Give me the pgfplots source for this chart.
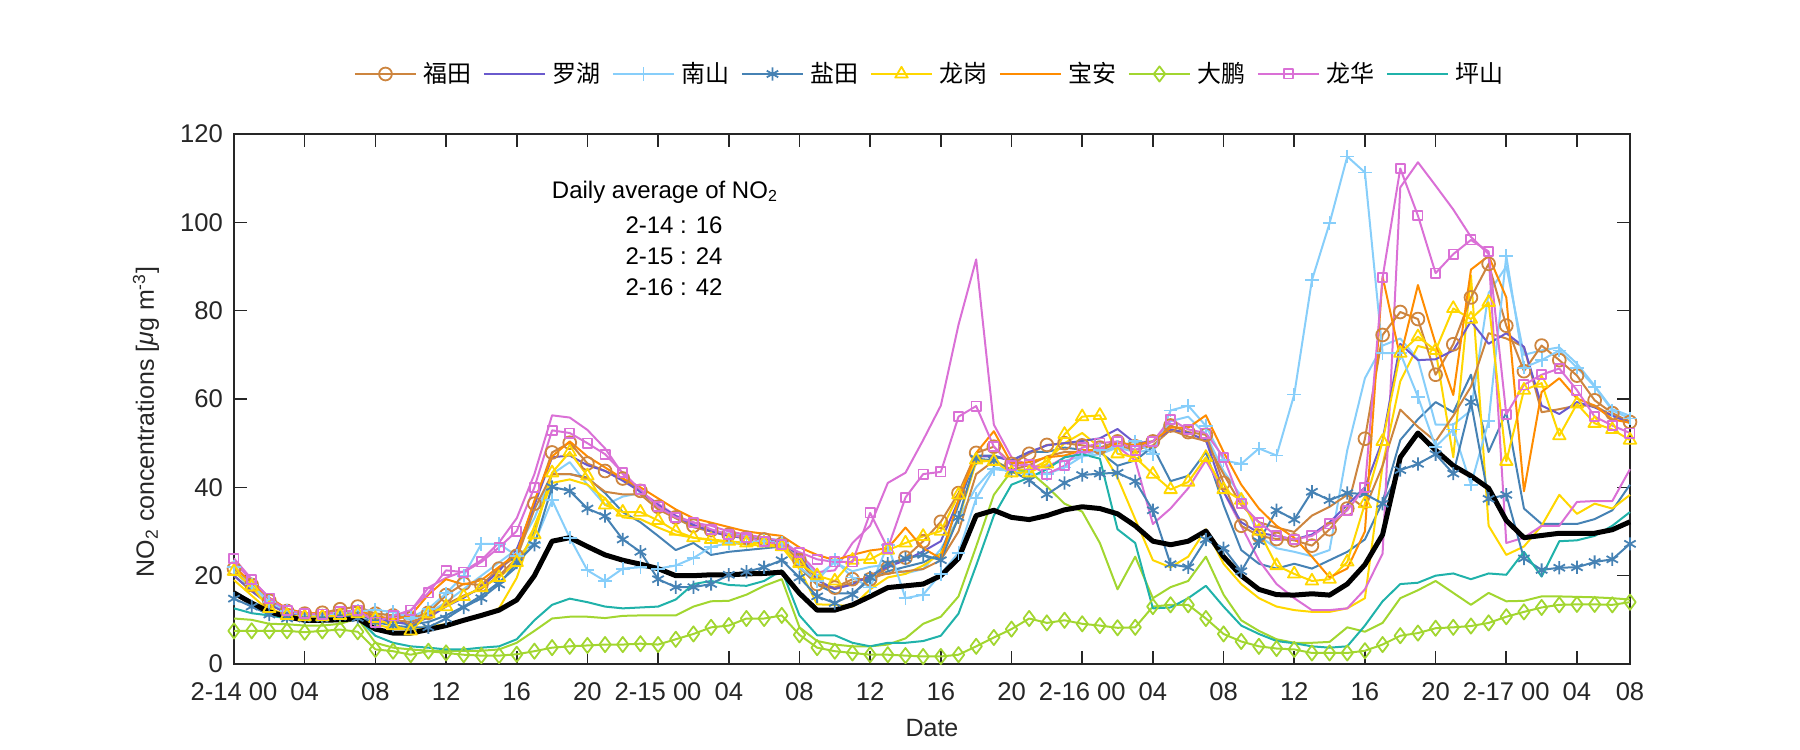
\documentclass[border=0pt]{standalone}
\usepackage{fontspec}
\setmainfont{Liberation Sans}
\newfontfamily\cjk{Noto Sans CJK SC}
\usepackage{pgfplots}
\pgfplotsset{compat=1.18}
\definecolor{cFT}{HTML}{CD853F}
\definecolor{cLU}{HTML}{6A5ACD}
\definecolor{cNS}{HTML}{87CEFA}
\definecolor{cYT}{HTML}{4682B4}
\definecolor{cLG}{HTML}{FFD700}
\definecolor{cBA}{HTML}{FF8C00}
\definecolor{cDP}{HTML}{A2D630}
\definecolor{cLH}{HTML}{DA70D6}
\definecolor{cPS}{HTML}{20B2AA}
\definecolor{axgray}{HTML}{262626}
\newcommand\ff{\fontsize{12}{14.4}\selectfont}
\newcommand\fft{\fontsize{12.8}{15}\selectfont}
\newcommand\ffl{\fontsize{12.5}{15}\selectfont}
\pgfplotsset{
  s/.style={line width=1pt, line join=round, mark options={solid, line width=0.9pt}},
  u/.style={line width=1pt, line join=round, no markers, forget plot},
  /pgfplots/table/tb/.style={x expr=\coordindex, y index=0, header=false, row sep=\\},
}
\begin{document}
\begin{tikzpicture}[font=\ff]
\path[use as bounding box] (-117pt,-43pt) rectangle (783pt,332pt);
\begin{axis}[
  at={(0pt,0pt)}, anchor=south west,
  scale only axis, width=698pt, height=265pt,
  xmin=0, xmax=79, ymin=0, ymax=120,
  clip=false,
  xtick={0,4,8,12,16,20,24,28,32,36,40,44,48,52,56,60,64,68,72,76,79},
  xticklabels={2-14 00,04,08,12,16,20,2-15 00,04,08,12,16,20,2-16 00,04,08,12,16,20,2-17 00,04,08},
  ytick={0,20,40,60,80,100,120},
  /pgf/number format/assume math mode=true,
  axis line style={axgray, line width=0.8pt},
  tick style={axgray, line width=0.8pt},
  major tick length=6.5pt,
  tick align=inside,
  ticklabel style={text=axgray, font=\fft},
  xticklabel style={yshift=-6pt},
  yticklabel style={xshift=-2pt},
  xlabel={Date},
  ylabel={NO\textsubscript{2} concentrations [\textit{μ}g m\textsuperscript{-3}]},
  xlabel style={at={(axis description cs:0.5,0)}, anchor=center, yshift=-32pt, text=axgray, font=\ffl},
  ylabel style={at={(axis description cs:-0.063,0.457)}, anchor=center, text=axgray, font=\ffl},
  legend style={at={(0.5,1)}, anchor=center, xshift=-1.5pt, yshift=30pt, draw=none, fill=none,
    legend columns=9, font=\ff, text=black,
    nodes={inner xsep=0pt, inner ysep=2pt},
    /tikz/every odd column/.append style={column sep=3.5pt},
    /tikz/every even column/.append style={column sep=5.5pt}},
  legend cell align=left,
  legend image code/.code={\draw[mark repeat=2,mark phase=2] plot coordinates {(0pt,0pt) (15.25pt,0pt) (30.5pt,0pt)};},
]
% ---------- unmarked companion lines ----------
\addplot[u, color=cNS] table[tb]{
21\\17\\13.5\\11.5\\10.8\\10.8\\11\\11.5\\
11.5\\11\\10\\11.5\\14\\17\\20\\23\\
26\\33\\43\\45.7\\40.6\\36\\37.9\\38.7\\
36\\33\\31\\30\\29.5\\29\\28.5\\28\\
25\\20\\23\\21\\22\\22.5\\20.5\\21.5\\
26\\33\\40\\44.5\\44\\44\\45\\46\\
47\\47.5\\49\\48\\48.4\\55\\56\\52\\
43.7\\38\\29\\26.2\\25.4\\24.4\\25.8\\48.4\\
64.7\\72.1\\73.7\\69\\54.2\\54.2\\57.4\\84\\
90\\70\\71\\71.7\\68\\63\\57.7\\56.2\\
};
\addplot[u, color=cYT] table[tb]{
16\\14\\12\\11\\10.5\\10.5\\10.8\\11\\
10\\9.5\\9\\9.5\\11\\13\\15.5\\18.5\\
22\\30\\43\\43\\42.2\\38.7\\34.4\\32.1\\
29\\25.8\\27.4\\24.7\\25.4\\25.8\\26.2\\26.6\\
22\\18\\16\\16\\19\\21\\22\\23\\
25\\36\\47.2\\47.2\\46.1\\48\\48\\49\\
48.5\\48\\44.9\\46.1\\49.2\\41.4\\42.6\\48\\
36\\25.8\\22.7\\21.6\\22.7\\21.6\\23.5\\25.4\\
28.2\\36.7\\50.7\\55.4\\59.3\\57\\65.5\\48\\
57\\35.2\\31.7\\31.7\\31.7\\32.8\\34.8\\40.6\\
};
\addplot[u, color=cLG] table[tb]{
19\\15.5\\12\\10.5\\10\\10\\10.2\\10.5\\
9\\8\\7.8\\8.5\\9\\10\\11\\12.6\\
19.5\\31.3\\41\\41.8\\40.6\\37.5\\33.2\\32.8\\
30.9\\29.3\\28.6\\28\\27.5\\27\\26.8\\26.5\\
21.5\\13.5\\13.4\\13\\16.9\\19.6\\20.4\\22.3\\
25\\32.8\\45.7\\46.1\\44\\44\\46\\50\\
52.3\\49\\42.2\\32.8\\23.5\\21.9\\24.3\\30.5\\
22.7\\18.1\\14.9\\13\\12.2\\11.8\\11.8\\12.6\\
14.9\\45\\64\\72\\71\\46.8\\88\\31.3\\
24.7\\26.6\\31.3\\38.3\\34\\36.3\\35.2\\38.3\\
};
\addplot[u, color=cFT] table[tb]{
20\\16.5\\13.5\\11.5\\11\\11\\11.5\\12\\
10.5\\10\\9.5\\11\\13.5\\15.5\\17\\20\\
24\\35\\43\\43\\42\\39\\38.4\\38.4\\
35\\33\\31\\30\\29\\28.5\\28\\27.5\\
22\\18\\17\\18.5\\19.5\\20.5\\21\\21.5\\
23.5\\30\\43\\46\\44\\45\\47\\48\\
48\\48\\49.5\\48.5\\49.5\\53\\51.5\\50.5\\
43\\36\\32.1\\30.9\\29.9\\33.6\\35.6\\38.3\\
35.2\\44.9\\57.6\\53.7\\50.4\\56.2\\62.8\\74.9\\
73.7\\71.8\\57\\57.7\\58.5\\58.5\\56.2\\55\\
};
\addplot[u, color=cDP] table[tb]{
10.3\\10\\9.1\\9\\8.7\\8.7\\9.1\\10.3\\
4.8\\3.7\\3.3\\3\\3\\3\\3\\3.3\\
4.8\\7.5\\10.3\\10.7\\10.7\\10.4\\10.9\\11\\
11\\11\\13\\14.2\\14.3\\15.7\\17.7\\19.2\\
8.3\\5.2\\4.4\\4\\4\\4.4\\5.8\\9.1\\
10.7\\15.3\\26.6\\38.3\\43.7\\43.7\\40.2\\36.3\\
34.5\\27.4\\16.9\\24.3\\14.9\\17.4\\18.8\\24.3\\
15.7\\9.9\\7.5\\5.6\\4.8\\4.8\\5\\8.3\\
7.3\\9.3\\14.9\\16.7\\18.8\\16.1\\13.4\\16.1\\
14.2\\14.3\\15.3\\15.3\\15.2\\15.1\\14.9\\14.6\\
};
\addplot[u, color=cLH] table[tb]{
23\\19\\15\\12.5\\11.5\\11.3\\11.5\\12\\
10.5\\10.5\\12\\17.3\\19.5\\21\\23.5\\27.5\\
33\\43\\56.3\\55.8\\53\\48.8\\43\\39\\
36.3\\33.6\\32\\31.3\\30\\29.3\\28.6\\27.8\\
25\\20.8\\21.2\\27.4\\31.3\\41\\43.3\\50.7\\
58.5\\76.8\\91.6\\54.2\\46.8\\44.9\\44.5\\46.8\\
47.6\\48.8\\49.2\\46.1\\31.7\\35.2\\39.8\\46.1\\
39\\31.3\\23.5\\18.1\\14.9\\12.2\\12.2\\12.6\\
16.9\\25\\107.9\\113.6\\108.3\\102.9\\96.7\\92.8\\
27.4\\28.6\\31.3\\31.3\\36.7\\36.9\\36.9\\44.1\\
};
% ---------- legend series ----------
\addplot[s, color=cFT, mark=o, mark size=3.2pt] table[tb]{
21.6\\17.9\\14.3\\12\\11.4\\11.6\\12.4\\13\\
11.4\\11\\10.3\\11.6\\15.6\\18.2\\17.9\\21.6\\
24.5\\36.3\\47.9\\50.1\\45.4\\43.7\\42\\39.2\\
35.6\\33.2\\31.3\\30.3\\29.3\\28.6\\28.2\\27.2\\
23.5\\18.1\\17.3\\19.2\\19.2\\21.8\\24.1\\27.8\\
32.2\\38.7\\47.8\\49.2\\45.3\\47.6\\49.6\\50\\
49.5\\49\\50.4\\49.3\\50.4\\54\\52.5\\51.9\\
41\\31.3\\29\\28.3\\28\\26.8\\30.5\\35.2\\
51\\74.5\\79.7\\78.1\\65.5\\72.4\\83\\90.6\\
76.6\\66.3\\72.1\\68.8\\65.3\\59.7\\56.8\\54.8\\
};
\addlegendentry{\cjk 福田}
\addplot[s, color=cLU, no markers] table[tb]{
20\\16.5\\13.5\\11.5\\11\\11\\11.2\\11.5\\
10.5\\9.5\\9\\10.5\\13\\15\\17.5\\21\\
26\\36\\46.8\\47.2\\45\\43.7\\41.5\\39\\
36\\33.5\\31.5\\30\\29\\28.5\\28\\27.5\\
24.5\\19\\17\\18\\20\\22\\23.5\\25.5\\
27.8\\37\\47\\47\\46\\48\\49.5\\50\\
50.5\\51.1\\53.2\\50\\50.4\\53.1\\52.3\\50.7\\
39\\32.1\\29.7\\29\\28.2\\29.3\\32.1\\36\\
40\\50.7\\72.5\\68.8\\69\\71\\77.6\\72.5\\
74.9\\71.8\\58.5\\56.6\\59.3\\58.1\\56.2\\54.6\\
};
\addlegendentry{\cjk 罗湖}
\addplot[s, color=cNS, mark=+, mark size=3.4pt] table[tb]{
22\\18\\14\\12\\11\\11\\11.5\\12\\
12.2\\11.8\\10.5\\12.5\\16\\20\\27.2\\27.2\\
24.5\\27.4\\37.1\\28.6\\21.2\\18.8\\21.6\\21.9\\
21.6\\22.3\\24\\26.5\\27.4\\27.6\\27.8\\27.4\\
21.9\\18.8\\23.5\\19.6\\17.3\\27\\14.9\\15.7\\
20.4\\25.2\\37.5\\44.1\\43.7\\43\\43\\44.5\\
47\\48.4\\49.2\\50.4\\47.6\\57.4\\58.5\\53.9\\
46.1\\45.3\\48.8\\47.2\\61\\86.9\\99.8\\114.9\\
111.3\\70.4\\70.4\\60.5\\49.2\\53.1\\40.6\\55\\
92.4\\67.1\\68.8\\71\\67.1\\62.8\\57.4\\55.6\\
};
\addlegendentry{\cjk 南山}
\addplot[s, color=cYT, mark=asterisk, mark size=3.3pt] table[tb]{
14.8\\13\\11.2\\10.3\\10.3\\10.3\\10.7\\10.4\\
9.5\\8.7\\8.3\\8.3\\10.3\\12.8\\14.9\\18\\
23\\27\\40.1\\39.2\\35.2\\33.5\\28.2\\25.4\\
19.2\\17.4\\17.4\\18.1\\20.2\\20.9\\21.9\\23.5\\
19.6\\15.3\\13.8\\15.7\\19.6\\22.7\\23.9\\24.7\\
23.5\\33.2\\46.5\\46.1\\43.7\\41.6\\38.4\\41\\
42.8\\43.1\\43.3\\41.4\\34.8\\22.6\\21.9\\28.2\\
26.2\\21\\27.8\\34.8\\32.7\\39\\37.1\\38.7\\
38.5\\36.3\\43.9\\45.3\\47.5\\43.1\\59.3\\37.4\\
38.3\\23.9\\21.3\\21.8\\21.9\\23.1\\23.7\\27.2\\
};
\addlegendentry{\cjk 盐田}
\addplot[s, color=cLG, mark=triangle, mark size=3.6pt] table[tb]{
21\\17.5\\12.6\\11\\10.7\\10.7\\11\\11.4\\
10.3\\8.7\\7.5\\11.4\\13\\15.3\\17.3\\19.6\\
23\\29.3\\43.3\\48\\42.6\\36\\34.4\\34.4\\
32.5\\30.1\\28.6\\28.2\\27.8\\27.4\\27.4\\26.6\\
22.8\\20\\18.8\\23.5\\23.7\\25.8\\27.4\\28.9\\
30.1\\38.3\\46.2\\45.9\\43.3\\43.3\\45.3\\52\\
56\\56.3\\47.6\\46.8\\43\\39.5\\41.2\\46.8\\
39.5\\37.1\\30.1\\22.3\\20.4\\18.8\\19.2\\23.1\\
36.3\\50.4\\70.4\\74.1\\71\\80.5\\78.1\\81.9\\
45.9\\62\\63.6\\51.7\\58.9\\54.5\\53.1\\50.7\\
};
\addlegendentry{\cjk 龙岗}
\addplot[s, color=cBA, no markers] table[tb]{
22\\18.4\\15\\12.5\\11.5\\11.5\\11.8\\12\\
11\\10\\11\\15.7\\19.2\\18\\19\\22\\
25\\37\\47\\50.4\\47\\44.5\\42\\40\\
37.5\\35\\33\\32\\31\\30\\29.5\\29\\
26.4\\24.7\\23.5\\24.7\\25.7\\26.2\\30.9\\26.2\\
23.9\\37.1\\47.8\\52.7\\45.4\\45.7\\46.8\\47.2\\
48.4\\48.4\\50\\49.6\\50.4\\53.5\\53.5\\56.3\\
48\\40.6\\35.2\\31.3\\28.6\\24.3\\19.6\\21.6\\
30\\87.7\\69.4\\85.8\\72.5\\60.9\\89.3\\92.4\\
83\\39.1\\61.6\\64.7\\60.1\\58.5\\55.4\\54.6\\
};
\addlegendentry{\cjk 宝安}
\addplot[s, color=cDP, mark=diamond, mark size=3.8pt] table[tb]{
7.5\\7.5\\7.5\\7.5\\7.2\\7.5\\7.8\\7.3\\
3.3\\2.9\\2.1\\2.9\\2.5\\2.1\\1.9\\1.9\\
2.2\\2.9\\3.7\\4\\4.2\\4.4\\4.4\\4.6\\
4.4\\5.6\\6.8\\8.3\\8.7\\10.3\\10.3\\11\\
6.6\\3.7\\2.9\\2.5\\2.1\\2.1\\1.9\\1.7\\
1.7\\2.1\\4\\6\\7.9\\10.3\\9.3\\9.9\\
9.1\\8.7\\8.2\\8.3\\13\\13.4\\13.4\\10.3\\
6.8\\5.1\\4\\3.5\\3.3\\2.5\\2.5\\2.5\\
3\\4.4\\6.4\\7\\8.1\\8.3\\8.6\\9.3\\
10.7\\11.8\\12.8\\13.4\\13.5\\13.5\\13.4\\14\\
};
\addlegendentry{\cjk 大鹏}
\addplot[s, color=cLH, mark=square, mark size=2.3pt] table[tb]{
23.9\\19.2\\14.9\\12.1\\11.4\\11.3\\11.8\\12.2\\
9.5\\10.9\\12.2\\16.1\\21.2\\20.8\\23.1\\26.4\\
30.1\\40\\52.9\\52.3\\50\\47.5\\43.3\\39.5\\
35.6\\33.2\\32.1\\30.5\\29.3\\28.6\\27.8\\27\\
25.3\\23.7\\23.1\\23.1\\34.2\\26.2\\37.7\\43\\
43.5\\56\\58.4\\49.2\\44.9\\45.1\\43\\44.9\\
49\\50\\50.4\\48.4\\50.4\\55.4\\53.1\\52.3\\
46.8\\36.3\\32.1\\29\\28.2\\29\\31.7\\34.8\\
40\\87.5\\112.2\\101.5\\88.5\\92.8\\96\\93.4\\
56.5\\63.2\\65.5\\66.9\\62\\56\\54\\52.3\\
};
\addlegendentry{\cjk 龙华}
\addplot[s, color=cPS, no markers] table[tb]{
12.6\\11.5\\11\\10.3\\10\\10\\9.9\\10.4\\
6.4\\4.8\\4\\3.7\\3.3\\3.3\\3.7\\4\\
5.6\\9.9\\13.4\\14.8\\14\\13\\12.6\\12.8\\
13\\14.6\\18.1\\18.8\\17.9\\17.7\\18.8\\21.2\\
11\\6.5\\6.5\\4.8\\4\\4.8\\4.8\\5.2\\
6.4\\11.4\\22.3\\33.6\\40.6\\42.2\\44.1\\46.8\\
47.5\\46.5\\30.5\\27.4\\12.6\\12.8\\14.9\\17.7\\
13\\8.7\\6.8\\5.2\\4.7\\4\\3.7\\4\\
8.7\\14.2\\18.1\\18.4\\20\\20.5\\19.2\\20.5\\
20.2\\25.4\\19.8\\27.8\\28\\29\\31.3\\34.4\\
};
\addlegendentry{\cjk 坪山}
% ---------- average ----------
\addplot[black, line width=2.5pt, line join=round, no markers, forget plot] table[tb]{
16.1\\13.8\\11.8\\10.7\\9.9\\9.9\\10\\10.3\\
7.9\\7\\7\\7.8\\8.7\\9.9\\11\\12.2\\
14.5\\20\\27.8\\28.6\\26.6\\24.7\\23.5\\22.6\\
21.6\\20\\20\\20.2\\20.2\\20.4\\20.5\\20.8\\
16\\12.2\\12.2\\13.4\\15.3\\17.3\\17.7\\18.1\\
20\\23.9\\33.6\\34.8\\33.2\\32.7\\33.6\\34.9\\
35.6\\35.2\\34\\31.3\\27.8\\27\\27.8\\30.1\\
24.3\\20\\16.9\\15.7\\15.6\\15.9\\15.6\\18.1\\
22.5\\29.3\\46.8\\52.3\\48.4\\44.9\\42.6\\39.8\\
32.5\\28.6\\29.1\\29.6\\29.6\\29.6\\30.4\\32.2\\
};
% ---------- annotation ----------
\node[text=black] at (rel axis cs:0.3087,0.8906) {Daily average of NO\textsubscript{2}};
\node[text=black] at (rel axis cs:0.3152,0.8283) {2-14 : 16};
\node[text=black] at (rel axis cs:0.3152,0.7698) {2-15 : 24};
\node[text=black] at (rel axis cs:0.3152,0.7113) {2-16 : 42};
\end{axis}
\end{tikzpicture}
\end{document}
